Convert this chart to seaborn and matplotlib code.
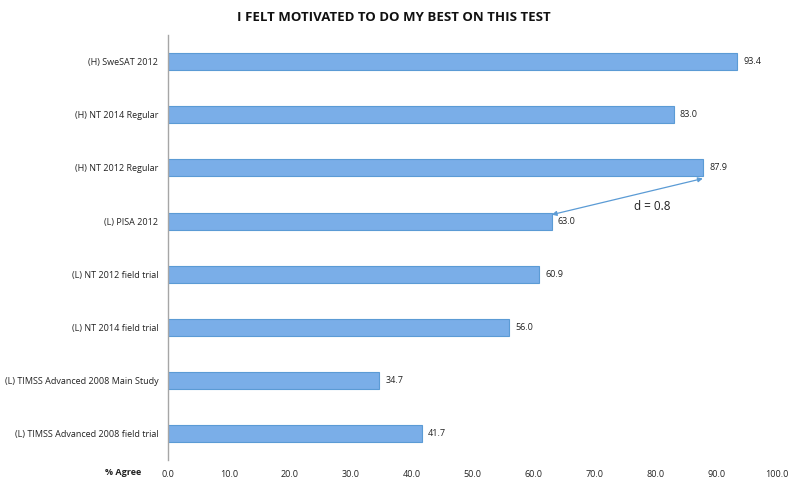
import matplotlib.pyplot as plt
import pandas as pd
import seaborn as sns

# Dados do gráfico
categorias = ['(H) SweSAT 2012', '(H) NT 2014 Regular', '(H) NT 2012 Regular',
              '(L) PISA 2012', '(L) NT 2012 field trial', '(L) NT 2014 field trial',
              '(L) TIMSS Advanced 2008 Main Study', '(L) TIMSS Advanced 2008 field trial']
valores = [93.4, 83.0, 87.9, 63.0, 60.9, 56.0, 34.7, 41.7]
ticks_x = [0, 10, 20, 30, 40, 50, 60, 70, 80, 90, 100]

df = pd.DataFrame({'teste': categorias, 'agree': valores})

sns.set_style("white")
plt.rcParams['font.family'] = ['Open Sans', 'DejaVu Sans']

fig = plt.figure(figsize=(7.88, 4.79), dpi=100)
ax = fig.add_axes([0.2132, 0.039, 0.773, 0.888])

sns.barplot(data=df, x='agree', y='teste', ax=ax, color='#7aaee8',
            edgecolor='#5b9bd5', linewidth=0.8, width=0.32, saturation=1)

# rótulos de valor
for i, v in enumerate(valores):
    ax.text(v + 1.0, i, f'{v:.1f}', va='center', ha='left', fontsize=6.5, color='#222222')

# seta d = 0.8
ax.annotate('', xy=(63.0, 3 - 0.12), xytext=(87.8, 2 + 0.2),
            arrowprops=dict(arrowstyle='<|-|>', color='#5b9bd5', lw=0.9,
                            mutation_scale=7, shrinkA=0, shrinkB=0))
ax.text(79.5, 2.72, 'd = 0.8', fontsize=8.5, ha='center', va='center', color='#222222')

ax.set_xlim(0, 100)
ax.set_ylim(7.5, -0.5)
ax.set_xticks(ticks_x)
ax.set_xticklabels([f'{t:.1f}' for t in ticks_x], fontsize=6.5, color='#222222')
ax.tick_params(axis='x', length=0, pad=7)
ax.tick_params(axis='y', length=0, labelsize=6.5, labelcolor='#222222', pad=7)
ax.set_xlabel('')
ax.set_ylabel('')

for lado in ['top', 'right', 'bottom']:
    ax.spines[lado].set_visible(False)
ax.spines['left'].set_color('#a6a6a6')
ax.spines['left'].set_linewidth(1)

fig.text(0.179, 0.0146, '% Agree', fontsize=6.5, fontweight='bold', ha='right', va='center',
         color='#222222')
fig.text(0.5, 0.963, 'I FELT MOTIVATED TO DO MY BEST ON THIS TEST', fontsize=9.5,
         fontweight='bold', ha='center', va='center', color='#111111')

fig.savefig('out.png', dpi=100)
